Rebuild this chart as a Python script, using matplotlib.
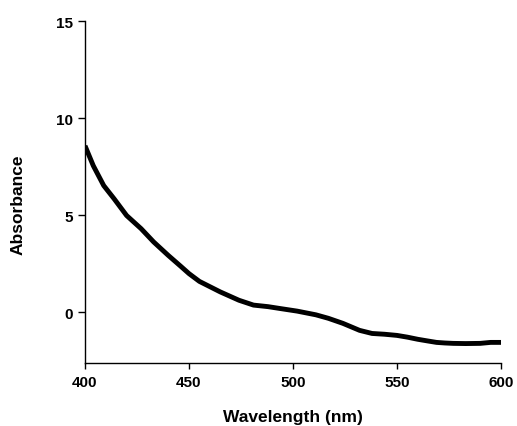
import matplotlib
matplotlib.use("Agg")
import matplotlib.pyplot as plt

wavelength = [400, 404, 409, 414, 420, 427, 433, 440, 446, 450, 455, 465, 474, 481, 488, 494, 502, 511,
              517, 524, 532, 538, 544, 550, 555, 560, 565, 569, 573, 577, 583, 590, 595, 600]
absorbance = [8.58, 7.55, 6.53, 5.85, 4.99, 4.31, 3.63, 2.94, 2.38, 2.0, 1.6, 1.06, 0.63, 0.38, 0.3, 0.2, 0.07, -0.12,
              -0.3, -0.56, -0.92, -1.08, -1.12, -1.18, -1.27, -1.38, -1.47, -1.54, -1.57, -1.59, -1.6, -1.59, -1.54, -1.54]
xticks = [400, 450, 500, 550, 600]
yticks = [0, 5, 10, 15]

plt.rcParams['font.family'] = ['Liberation Sans', 'DejaVu Sans']
fig = plt.figure(figsize=(5.17, 4.27), dpi=100)
ax = fig.add_axes([85/517, 63/427, (501-85)/517, (364-22)/427])
ax.plot(wavelength, absorbance, color='black', lw=3.5, solid_capstyle='butt', solid_joinstyle='round')
ax.set_xlim(400, 600)
ax.set_ylim(-2.6, 15)
ax.set_xticks(xticks)
ax.set_yticks(yticks)
for s in ['top', 'right']:
    ax.spines[s].set_visible(False)
for s in ['left', 'bottom']:
    ax.spines[s].set_linewidth(1.0)
ax.tick_params(axis='y', direction='out', length=5, width=1, labelsize=11, pad=3.5)
ax.tick_params(axis='x', direction='out', length=4.5, width=1, labelsize=11, pad=4.5)
for lab in ax.get_xticklabels() + ax.get_yticklabels():
    lab.set_fontweight('bold')
ax.set_xlabel('Wavelength (nm)', fontsize=12.5, fontweight='bold', labelpad=14)
ax.set_ylabel('Absorbance', fontsize=12.5, fontweight='bold')
ax.yaxis.set_label_coords(-0.143, 0.465)
fig.savefig('out.png', dpi=100)
